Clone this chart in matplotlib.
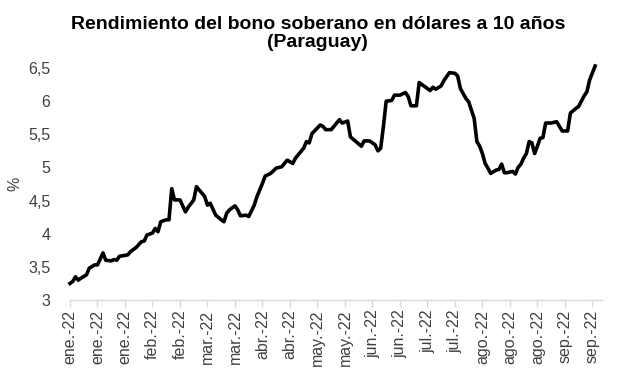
import numpy as np
import matplotlib
matplotlib.use("Agg")
import matplotlib.pyplot as plt
from matplotlib.ticker import FuncFormatter

plt.rcParams['font.family'] = ['Liberation Sans', 'DejaVu Sans']

# trading session number (0 = first session of Jan 2022) and yield in %
dia = [0, 1, 2, 3, 4, 6, 7, 9, 10, 12, 13, 15, 16, 17, 18, 21, 22, 24, 26, 27,
       28, 30, 31, 32, 33, 35, 36, 37, 38, 40, 42, 43, 45, 46, 47, 49, 50, 51, 53, 55,
       56, 57, 58, 60, 61, 62, 64, 65, 67, 68, 70, 71, 73, 75, 77, 79, 81, 82, 85, 86,
       87, 88, 91, 92, 93, 95, 96, 98, 99, 101, 102, 104, 106, 107, 109, 111, 112, 113, 114, 115,
       117, 118, 120, 122, 123, 124, 126, 127, 129, 131, 132, 133, 135, 136, 138, 140, 141, 142, 144, 145,
       147, 148, 149, 150, 151, 152, 153, 155, 156, 157, 158, 159, 161, 162, 163, 164, 165, 166, 167, 168,
       169, 170, 171, 172, 173, 175, 177, 179, 181, 182, 184, 185, 187, 188, 189, 191]
rendimiento = [3.25, 3.28, 3.35, 3.30, 3.33, 3.38, 3.48, 3.53, 3.53, 3.71, 3.60, 3.59, 3.61, 3.60, 3.66, 3.68, 3.73, 3.79, 3.88, 3.89,
               3.98, 4.01, 4.08, 4.03, 4.18, 4.21, 4.21, 4.68, 4.51, 4.51, 4.33, 4.40, 4.51, 4.71, 4.66, 4.56, 4.43, 4.46, 4.28, 4.21,
               4.18, 4.31, 4.36, 4.42, 4.36, 4.27, 4.28, 4.26, 4.43, 4.56, 4.76, 4.87, 4.91, 4.99, 5.01, 5.11, 5.06, 5.14, 5.29, 5.39,
               5.37, 5.51, 5.64, 5.62, 5.57, 5.57, 5.62, 5.72, 5.67, 5.70, 5.46, 5.39, 5.32, 5.40, 5.40, 5.34, 5.25, 5.29, 5.62, 6.00,
               6.01, 6.09, 6.09, 6.13, 6.07, 5.93, 5.93, 6.28, 6.22, 6.16, 6.21, 6.18, 6.23, 6.31, 6.43, 6.42, 6.38, 6.19, 6.04, 5.99,
               5.74, 5.39, 5.32, 5.21, 5.06, 4.99, 4.91, 4.96, 4.97, 5.05, 4.92, 4.92, 4.94, 4.90, 5.00, 5.05, 5.14, 5.21, 5.39, 5.37,
               5.21, 5.32, 5.44, 5.45, 5.67, 5.67, 5.69, 5.55, 5.55, 5.82, 5.89, 5.92, 6.08, 6.14, 6.32, 6.53]

# a label every 10 sessions
etiquetas = ["ene.-22", "ene.-22", "ene.-22", "feb.-22", "feb.-22", "mar.-22", "mar.-22",
             "abr.-22", "abr.-22", "may.-22", "may.-22", "jun.-22", "jun.-22", "jul.-22",
             "jul.-22", "ago.-22", "ago.-22", "ago.-22", "sep.-22", "sep.-22"]
y_ticks = [3, 3.5, 4, 4.5, 5, 5.5, 6, 6.5]

fig = plt.figure(figsize=(6.17, 3.91), dpi=100)
ax = fig.add_axes([70 / 617, 1 - 300 / 391, 532 / 617, 232 / 391])

ax.plot(dia, rendimiento, color='black', lw=2.6, solid_joinstyle='round', clip_on=False)

ax.set_xlim(0, 193.5)
ax.set_ylim(3, 6.5)
ax.set_yticks(y_ticks)
ax.yaxis.set_major_formatter(FuncFormatter(lambda v, p: f"{v:g}".replace('.', ',')))
ax.set_xticks(np.arange(len(etiquetas)) * 10)
ax.set_xticklabels(etiquetas, rotation=90)

for s in ['top', 'right', 'left']:
    ax.spines[s].set_visible(False)
ax.spines['bottom'].set_color('#d9d9d9')
ax.spines['bottom'].set_linewidth(1.0)
ax.tick_params(axis='x', colors='#d9d9d9', length=5, width=1, labelcolor='#404040',
               labelsize=11.5, pad=2)
ax.tick_params(axis='y', length=0, labelcolor='#404040', labelsize=11.5, pad=14)
ax.set_ylabel('%', color='#404040', fontsize=11.5, labelpad=4)

fig.text(0.515, 0.915, "Rendimiento del bono soberano en dólares a 10 años\n(Paraguay)",
         ha='center', va='center', fontsize=14, fontweight='bold', color='black',
         linespacing=1.1)

plt.savefig("out.png", dpi=100)
